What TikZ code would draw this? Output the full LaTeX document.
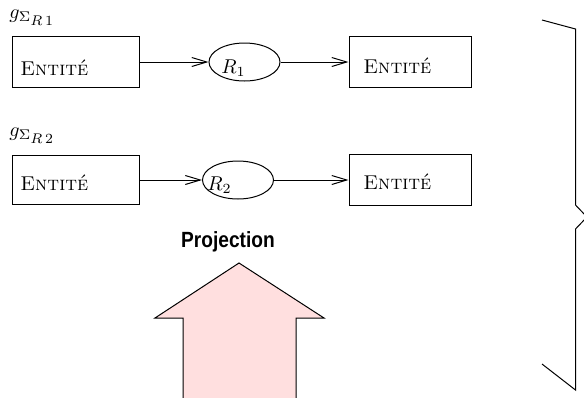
\documentclass[tikz,border=0pt]{standalone}
\usepackage{fontspec}
\newfontfamily\projfont{Liberation Sans}
\usetikzlibrary{arrows.meta,shapes.geometric}
\definecolor{arrowpink}{RGB}{255,223,223}
\begin{document}
\begin{tikzpicture}[x=0.5pt,y=-0.5pt,
  entbox/.style={draw,line width=0.5pt,minimum width=63.5pt,minimum height=25.5pt,inner sep=0pt},
  relell/.style={draw,ellipse,line width=0.5pt,minimum width=35.5pt,minimum height=19pt,inner sep=0pt},
  lbl/.style={anchor=base west,inner sep=0pt},
  conn/.style={line width=0.5pt,-{Straight Barb[length=7.5pt,width=4.5pt]}},
  plain/.style={line width=0.5pt}]
\useasboundingbox (0,0) rectangle (584,397);
% row 1
\node[entbox] (e1) at (75.5,62) {};
\node[lbl] (t1) at (20,75) {\textsc{Entité}};
\node[lbl] (g1) at (9,18) {$g_{\Sigma_{\scriptstyle R\,1}}$};
\node[relell] (r1) at (244.5,62) {};
\node[lbl] (rt1) at (221,73.3) {$R_1$};
\node[entbox,minimum width=61pt] (f1) at (410,62) {};
\node[lbl] (u1) at (363,73.3) {\textsc{Entité}};
\draw[conn] (e1.east) -- (r1.west);
\draw[conn] (r1.east) -- (f1.west);
% row 2
\node[entbox,minimum height=24.5pt] (e2) at (75.5,180) {};
\node[lbl] (t2) at (20,190) {\textsc{Entité}};
\node[lbl] (g2) at (9,136) {$g_{\Sigma_{\scriptstyle R\,2}}$};
\node[relell] (r2) at (238,180) {};
\node[lbl] (rt2) at (207,190) {$R_2$};
\node[entbox,minimum width=61pt] (f2) at (410,180) {};
\node[lbl] (u2) at (363,189) {\textsc{Entité}};
\draw[conn] (e2.east) -- (r2.west);
\draw[conn] (r2.east) -- (f2.west);
% projection arrow
\node[anchor=base,inner sep=0pt,font=\projfont\bfseries\fontsize{11}{13}\selectfont,xscale=0.87] (proj) at (228,247) {Projection};
\filldraw[fill=arrowpink,line width=0.5pt] (183,400) -- (183,318) -- (155,318) -- (239,263) -- (324,318) -- (296,318) -- (296,400);
% brace
\draw[plain] (542,20) -- (575.5,29) -- (575.5,205) -- (587,217) -- (575.5,229) -- (575.5,390) -- (542,364);
\end{tikzpicture}
\end{document}
